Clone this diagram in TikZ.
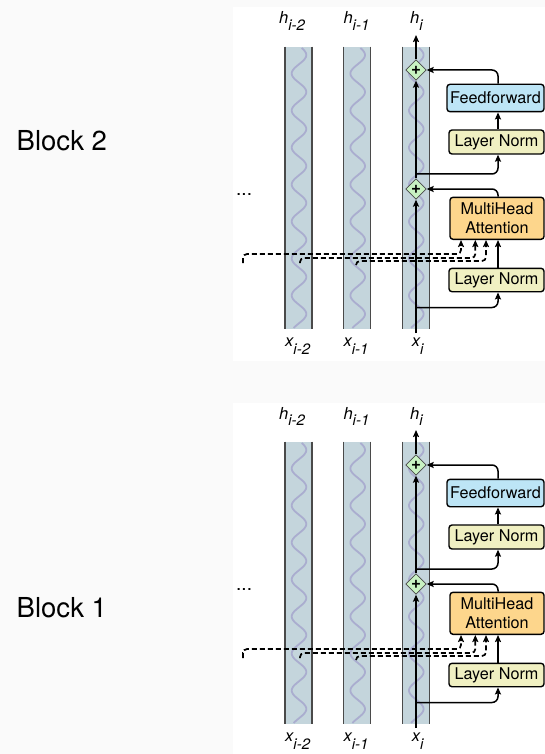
\documentclass[tikz,border=0pt]{standalone}
\usepackage{fontspec}
\setmainfont{TeX Gyre Heros}
\usetikzlibrary{arrows.meta,shapes.geometric}

\definecolor{pagebg}{HTML}{FAFAFA}
\definecolor{colfill}{HTML}{C4D5DC}
\definecolor{coledge}{HTML}{4A4A4A}
\definecolor{wavecol}{HTML}{AAADCF}
\definecolor{fffill}{HTML}{BDE5F6}
\definecolor{lnfill}{HTML}{F0F0C2}
\definecolor{mhafill}{HTML}{FDD68C}
\definecolor{addfill}{HTML}{C8F2C2}

% token label with a lowered index
\newcommand{\tokidx}[3]{{\itshape #1\raisebox{#3}{\fontsize{15}{15}\selectfont #2}}}

\tikzset{
  box/.style={draw=black, line width=1.4pt, rounded corners=3pt, inner sep=0pt,
    font=\fontsize{16.2}{19}\selectfont, align=center},
  addnode/.style={diamond, draw=coledge, fill=addfill, line width=0.8pt,
    minimum width=20.5pt, minimum height=20.5pt, inner sep=0pt,
    font=\fontsize{17}{17}\selectfont\bfseries},
  flow/.style={line width=1.5pt, -{Stealth[length=7pt,width=6pt,inset=1.2pt]}},
  skip/.style={flow, rounded corners=6pt},
  memo/.style={flow, line width=1.7pt, dash pattern=on 5pt off 3pt, rounded corners=4pt},
  lbl/.style={font=\fontsize{16.5}{16.5}\selectfont, inner sep=0pt},
  blocklbl/.style={font=\fontsize{27.5}{27.5}\selectfont, inner sep=0pt},
  transblock/.pic={
    % token columns with their wavy fill pattern (period 37pt)
    \foreach \cx in {285,343.7,402.3} {
      \fill[colfill] (\cx,46.7) rectangle ++(27,282.6);
      \draw[wavecol, line width=1.8pt] plot[domain=48:328, samples=220, smooth]
        ({\cx+14+7.3*cos(9.73*(\x-55))}, {\x});
      \draw[coledge, line width=1.1pt] (\cx,46.7) -- ++(0,282.6) (\cx+27,46.7) -- ++(0,282.6);
    }
    % labels
    \node[lbl, anchor=base west] (h2) at (279,24) {\tokidx{h}{i-2}{-6.5pt}};
    \node[lbl, anchor=base west] (h1) at (343.3,24) {\tokidx{h}{i-1}{-6.5pt}};
    \node[lbl, anchor=base west] (h0) at (410,24) {\tokidx{h}{i}{-6.5pt}};
    \node[lbl, anchor=base west] (x2) at (285,346.7) {\tokidx{x}{i-2}{-8pt}};
    \node[lbl, anchor=base west] (x1) at (343.3,346.7) {\tokidx{x}{i-1}{-8pt}};
    \node[lbl, anchor=base west] (x0) at (411.7,346.7) {\tokidx{x}{i}{-8pt}};
    \node[font=\fontsize{19}{19}\selectfont, anchor=base west, inner sep=0pt] (dots) at (236,195) {...};
    % layer boxes
    \node[box, fill=fffill, minimum width=97pt, minimum height=27.4pt] (ff) at (495.5,98) {Feedforward};
    \node[box, fill=lnfill, minimum width=95pt, minimum height=24pt] (ln1) at (496.5,142) {Layer Norm};
    \node[box, fill=mhafill, minimum width=94pt, minimum height=42pt] (mha) at (497,218.3) {MultiHead\\Attention};
    \node[box, fill=lnfill, minimum width=95pt, minimum height=23.4pt] (ln2) at (496.5,280) {Layer Norm};
    \node[addnode] (add1) at (416,70) {+};
    \node[addnode] (add2) at (416,189) {+};
    \coordinate (sp) at (498,0);
    \coordinate (xin) at (416,333);
    \coordinate (hout) at (416,35);
    \coordinate (br1) at (416,174);
    \coordinate (br2) at (416,307.5);
    \coordinate (m1) at (243,263);
    \coordinate (m2) at (300,263);
    \coordinate (m3) at (356,265);
    % context from earlier tokens
    \draw[memo] (m1) -- ++(0,-9) -| ([xshift=11.7pt]mha.south west);
    \draw[memo] (m2) -- ++(0,-5) -| ([xshift=26pt]mha.south west);
    \draw[memo] (m3) -- ++(0,-4) -| ([xshift=36.7pt]mha.south west);
    % residual stream
    \draw[flow] (xin) -- (add2.south);
    \draw[flow] (add2.north) -- (add1.south);
    \draw[flow] (add1.north) -- (hout);
    \draw[skip] (br2) -| (ln2.south -| sp);
    \draw[skip] (br1) -| (ln1.south -| sp);
    \draw[flow] (ln2.north -| sp) -- (mha.south -| sp);
    \draw[flow] (ln1.north -| sp) -- (ff.south -| sp);
    \draw[skip] (mha.north -| sp) |- (add2.east);
    \draw[skip] (ff.north -| sp) |- (add1.east);
  }
}

\begin{document}
\begin{tikzpicture}[x=1pt,y=-1pt]
  \useasboundingbox (0,0) rectangle (545,754);
  \fill[pagebg] (0,0) rectangle (545,754);
  \fill[white] (232.7,7) rectangle (545,360.5);
  \fill[white] (232.7,402.7) rectangle (545,754);
  \pic (upper) at (0,0) {transblock};
  \pic (lower) at (0,395) {transblock};
  \node[blocklbl, anchor=base west] (lbl2) at (16.5,150) {Block 2};
  \node[blocklbl, anchor=base west] (lbl1) at (16.5,617) {Block 1};
\end{tikzpicture}
\end{document}
